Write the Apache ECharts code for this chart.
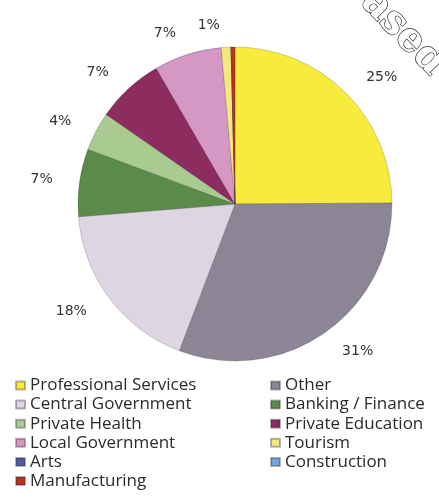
<!DOCTYPE html>
<html>
<head>
<meta charset="utf-8">
<script src="https://cdn.jsdelivr.net/npm/echarts@6/dist/echarts.min.js"></script>
<style>
  html, body { margin: 0; padding: 0; background: #ffffff; }
  #chart { width: 439px; height: 500px; }
</style>
</head>
<body>
<div id="chart"></div>
<script>
// Employment share by sector (percent)
const categories = [
  'Professional Services', 'Other', 'Central Government', 'Banking / Finance',
  'Private Health', 'Private Education', 'Local Government', 'Tourism',
  'Arts', 'Construction', 'Manufacturing'
];
const shares = [25, 31, 18, 7, 4, 7, 7, 1, 0, 0, 0.4];
const sliceColors = [
  '#f7ec3c', '#8b8596', '#ddd5e2', '#5b8b4a',
  '#a9cb91', '#8d2c5e', '#d597c3', '#f5e97e',
  '#4a5ea6', '#74a3d8', '#b8321f'
];
// Legend columns
const legendLeft = ['Professional Services', 'Central Government', 'Private Health', 'Local Government', 'Arts', 'Manufacturing'];
const legendRight = ['Other', 'Banking / Finance', 'Private Education', 'Tourism', 'Construction'];

const pieData = categories.map((name, i) => ({
  name: name,
  value: shares[i],
  itemStyle: { color: sliceColors[i] },
  label: { show: shares[i] >= 1 }
}));

const legendText = {
  fontFamily: '"Open Sans", sans-serif',
  fontSize: 17,
  color: '#2a2a2a',
  lineHeight: 16
};

const legendBase = {
  orient: 'vertical', top: 377, height: 122, padding: 0,
  icon: 'rect', itemWidth: 9, itemHeight: 8, itemGap: 2.1,
  textStyle: legendText, selectedMode: false
};

const chart = echarts.init(document.getElementById('chart'), null, { renderer: 'canvas' });
chart.setOption({
  animation: false,
  backgroundColor: '#ffffff',
  legend: [
    Object.assign({ data: legendLeft, left: 15 }, legendBase),
    Object.assign({ data: legendRight, left: 270 }, legendBase)
  ],
  graphic: [
    {
      type: 'text',
      x: 348, y: -24,
      rotation: -46 * Math.PI / 180,
      style: {
        text: 'based',
        fontFamily: '"DejaVu Serif", serif',
        fontWeight: 'bold',
        fontSize: 40,
        verticalAlign: 'middle',
        fill: '#ffffff',
        stroke: '#2a2a2a',
        lineWidth: 1.3
      }
    }
  ],
  series: [
    {
      type: 'pie',
      center: [235, 204],
      radius: [0, 157],
      startAngle: 90,
      clockwise: true,
      avoidLabelOverlap: false,
      silent: true,
      itemStyle: { borderColor: 'rgba(50,35,50,0.35)', borderWidth: 0.6 },
      label: {
        position: 'outside',
        formatter: p => p.value + '%',
        fontFamily: '"DejaVu Sans", sans-serif',
        fontSize: 14,
        color: '#333333'
      },
      labelLine: { show: false, length: 22, length2: 0 },
      data: pieData
    }
  ]
});
</script>
</body>
</html>
